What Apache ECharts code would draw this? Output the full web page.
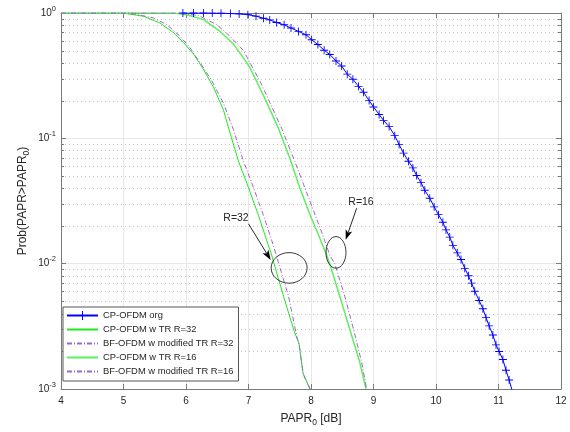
<!DOCTYPE html>
<html><head><meta charset="utf-8">
<script src="https://cdn.jsdelivr.net/npm/echarts@6/dist/echarts.min.js"></script>
<style>html,body{margin:0;padding:0;background:#fff}#c{width:570px;height:432px}</style>
</head><body><div id="c"></div>
<script>
// ---------- data ----------
const xTicks = [4, 5, 6, 7, 8, 9, 10, 11, 12];
const yTicks = [0.001, 0.01, 0.1, 1];
const seriesNames = ['CP-OFDM org', 'CP-OFDM w TR R=32', 'BF-OFDM w modified TR R=32', 'CP-OFDM w TR R=16', 'BF-OFDM w modified TR R=16'];

const orgX = [5.95, 6.12, 6.28, 6.42, 6.56, 6.71, 6.85, 6.99, 7.12, 7.24, 7.34, 7.45, 7.57, 7.68, 7.80, 7.92, 8.01, 8.11, 8.21, 8.30, 8.40, 8.49, 8.58, 8.67, 8.76, 8.84, 8.93, 9.00, 9.09, 9.16, 9.25, 9.34, 9.41, 9.48, 9.56, 9.63, 9.69, 9.76, 9.82, 9.90, 9.97, 10.04, 10.11, 10.16, 10.22, 10.27, 10.34, 10.40, 10.46, 10.52, 10.57, 10.62, 10.69, 10.75, 10.80, 10.85, 10.91, 10.96, 11.01, 11.07, 11.12, 11.17, 11.23];
const orgP = [1, 1, 1, 0.998, 0.995, 0.991, 0.984, 0.970, 0.944, 0.908, 0.881, 0.839, 0.805, 0.759, 0.713, 0.671, 0.612, 0.560, 0.505, 0.467, 0.414, 0.378, 0.325, 0.296, 0.260, 0.233, 0.200, 0.178, 0.155, 0.139, 0.124, 0.105, 0.0891, 0.0762, 0.0656, 0.0581, 0.0505, 0.0443, 0.0385, 0.0333, 0.0284, 0.0246, 0.0214, 0.0186, 0.0163, 0.0140, 0.0122, 0.0108, 0.00918, 0.00800, 0.00700, 0.00603, 0.00508, 0.00437, 0.00371, 0.00319, 0.00270, 0.00225, 0.00199, 0.00172, 0.00141, 0.00118, 0.00093];

const tr32X = [4.0, 4.5, 5.0, 5.32, 5.58, 5.80, 5.96, 6.12, 6.26, 6.44, 6.60, 6.70, 6.84, 7.00, 7.16, 7.29, 7.37, 7.56, 7.74, 7.81, 7.87, 7.98];
const tr32P = [1, 1, 0.998, 0.942, 0.834, 0.697, 0.581, 0.470, 0.368, 0.256, 0.168, 0.112, 0.0656, 0.0404, 0.0242, 0.0154, 0.0117, 0.0055, 0.0028, 0.0023, 0.00135, 0.001];

const mtr32X = [4.0, 4.5, 5.1, 5.48, 5.69, 5.90, 6.06, 6.22, 6.41, 6.60, 6.76, 6.92, 7.08, 7.24, 7.37, 7.45, 7.64, 7.77, 7.81, 7.88, 7.99];
const mtr32P = [1, 1, 0.998, 0.914, 0.809, 0.655, 0.530, 0.404, 0.290, 0.190, 0.117, 0.0656, 0.0404, 0.0242, 0.0154, 0.0114, 0.0055, 0.00266, 0.00222, 0.00129, 0.001];

const tr16X = [4.0, 5.0, 5.8, 6.01, 6.28, 6.54, 6.76, 6.97, 7.02, 7.25, 7.48, 7.66, 7.82, 7.98, 8.14, 8.25, 8.30, 8.46, 8.62, 8.78, 8.88];
const tr16P = [1, 1, 0.998, 0.970, 0.885, 0.718, 0.564, 0.404, 0.369, 0.214, 0.120, 0.0697, 0.0404, 0.0249, 0.0160, 0.0117, 0.0100, 0.0055, 0.0030, 0.00164, 0.001];

const mtr16X = [4.0, 5.0, 5.9, 6.2, 6.49, 6.70, 6.92, 7.2, 7.53, 7.72, 7.88, 8.04, 8.20, 8.30, 8.38, 8.54, 8.68, 8.81, 8.89];
const mtr16P = [1, 1, 0.998, 0.955, 0.809, 0.655, 0.501, 0.275, 0.120, 0.0697, 0.043, 0.0265, 0.0163, 0.0117, 0.0100, 0.0055, 0.0030, 0.00164, 0.001];

// annotations (data coordinates)
const annTexts = ['R=32', 'R=16'];
const annTextPos = [[6.80, 0.0230], [8.80, 0.0312]];
const annTail = [[7.00, 0.0208], [8.73, 0.0277]];
const annHead = [[7.355, 0.0107], [8.555, 0.0155]];
const annEllipse = [[7.65, 0.00925], [8.40, 0.0123]];
const annEllipseR = [[18, 15.3], [10, 15.8]];

// ---------- chart ----------
const chart = echarts.init(document.getElementById('c'), null, {renderer: 'canvas'});
const FONT = 'Liberation Sans, Arial, Helvetica, sans-serif';
const AX = '#7a7a7a';
const TXT = '#262626';
const pair = (xs, ps) => xs.map((x, i) => [x, ps[i]]);
const minorVals = [];
for (let k = -3; k < 0; k++) for (let m = 2; m <= 9; m++) minorVals.push(+(m * Math.pow(10, k)).toPrecision(3));

const crossPath = 'path://M4.45,0H5.55V4.45H10V5.55H5.55V10H4.45V5.55H0V4.45H4.45Z';
const supLabel = v => '{b|10}{s|' + Math.round(Math.log10(v)) + '}';

const option = {
  animation: false,
  backgroundColor: '#fff',
  textStyle: {fontFamily: FONT},
  grid: {left: 61, right: 9, top: 13, bottom: 38},
  legend: {
    data: seriesNames.map((n, i) => i === 0 ? {name: n} : {name: n, itemStyle: {opacity: 0}}),
    orient: 'vertical', left: 63, top: 307,
    padding: [4, 5, 5, 3], itemGap: 5, itemWidth: 31, itemHeight: 11,
    backgroundColor: '#fff', borderColor: '#555', borderWidth: 1, borderRadius: 0,
    textStyle: {fontSize: 9.4, color: TXT, fontFamily: FONT},
    selectedMode: false
  },
  xAxis: [{
    type: 'value', min: 4, max: 12, interval: 1, position: 'bottom',
    axisLine: {onZero: false, lineStyle: {color: AX}},
    axisTick: {inside: true, length: 5, lineStyle: {color: AX}},
    axisLabel: {fontSize: 10, color: TXT, margin: 7, fontFamily: FONT},
    splitLine: {show: true, lineStyle: {color: '#e8e8e8', width: 1}},
    name: '{a|PAPR}{s|0}{a| [dB]}', nameLocation: 'middle', nameGap: 21, nameMoveOverlap: false,
    nameTextStyle: {rich: {a: {fontSize: 12, color: TXT, fontFamily: FONT}, s: {fontSize: 8.5, color: TXT, fontFamily: FONT, padding: [8, 0, 0, 0]}}}
  }, {
    type: 'value', min: 4, max: 12, interval: 1, position: 'top',
    axisLine: {onZero: false, lineStyle: {color: AX}},
    axisTick: {inside: true, length: 5, lineStyle: {color: AX}},
    axisLabel: {show: false}, splitLine: {show: false}
  }],
  yAxis: [{
    type: 'log', logBase: 10, min: yTicks[0], max: yTicks[yTicks.length - 1], position: 'left',
    axisLine: {onZero: false, lineStyle: {color: AX}},
    axisTick: {inside: true, length: 5, lineStyle: {color: AX}},
    axisLabel: {
      formatter: supLabel, margin: 5,
      rich: {b: {fontSize: 10, color: TXT, fontFamily: FONT}, s: {fontSize: 7.5, color: TXT, fontFamily: FONT, padding: [0, 0, 9, 0]}}
    },
    splitLine: {show: true, lineStyle: {color: '#e8e8e8', width: 1}},
    name: '{a|Prob(PAPR>PAPR}{s|0}{a|)}', nameLocation: 'middle', nameGap: 30, nameMoveOverlap: false,
    nameTextStyle: {rich: {a: {fontSize: 12, color: TXT, fontFamily: FONT}, s: {fontSize: 8.5, color: TXT, fontFamily: FONT, padding: [8, 0, 0, 0]}}}
  }, {
    type: 'log', logBase: 10, min: yTicks[0], max: yTicks[yTicks.length - 1], position: 'right',
    axisLine: {onZero: false, lineStyle: {color: AX}},
    axisTick: {inside: true, length: 5, lineStyle: {color: AX}},
    axisLabel: {show: false}, splitLine: {show: false}
  }],
  series: [
    {
      type: 'custom', name: 'minor', coordinateSystem: 'cartesian2d', silent: true, z: 1,
      data: minorVals.map(v => [4, v]), encode: {x: 0, y: 1},
      renderItem: (params, api) => {
        const v = api.value(1);
        const a = api.coord([4, v]), b = api.coord([12, v]);
        const y = Math.round(a[1]) + 0.5;
        return {type: 'group', children: [
          {type: 'line', shape: {x1: a[0], y1: y, x2: b[0], y2: y}, style: {stroke: '#c4c4c4', lineWidth: 1, lineDash: [1, 3]}},
          {type: 'line', shape: {x1: a[0], y1: y, x2: a[0] + 3, y2: y}, style: {stroke: AX, lineWidth: 1}},
          {type: 'line', shape: {x1: b[0] - 3, y1: y, x2: b[0], y2: y}, style: {stroke: AX, lineWidth: 1}}
        ]};
      }
    },
    {
      name: seriesNames[0], type: 'line', data: pair(orgX, orgP), clip: true, z: 6,
      symbol: crossPath, symbolSize: 8, showSymbol: true,
      itemStyle: {color: '#0000ff'}, lineStyle: {color: '#0000ff', width: 1}
    },
    {
      name: seriesNames[1], type: 'line', data: pair(tr32X, tr32P), clip: true, z: 4,
      showSymbol: false, symbol: 'none', smooth: false,
      itemStyle: {color: '#1ee81e'}, lineStyle: {color: '#1ee81e', width: 1}
    },
    {
      name: seriesNames[2], type: 'line', data: pair(mtr32X, mtr32P), clip: true, z: 5,
      showSymbol: false, symbol: 'none',
      itemStyle: {color: '#a066cc'}, lineStyle: {color: '#a066cc', width: 1, type: [5, 2, 1, 2]}
    },
    {
      name: seriesNames[3], type: 'line', data: pair(tr16X, tr16P), clip: true, z: 4,
      showSymbol: false, symbol: 'none',
      itemStyle: {color: '#5cf05c'}, lineStyle: {color: '#5cf05c', width: 1.5}
    },
    {
      name: seriesNames[4], type: 'line', data: pair(mtr16X, mtr16P), clip: true, z: 5,
      showSymbol: false, symbol: 'none',
      itemStyle: {color: '#a066cc'}, lineStyle: {color: '#a066cc', width: 1, type: [5, 2, 1, 2]}
    }
  ]
};
chart.setOption(option);

// annotations: ellipses, arrows and labels placed from data coordinates
const toPx = p => chart.convertToPixel({gridIndex: 0}, p);
const elements = [];
annTexts.forEach((t, i) => {
  const tp = toPx(annTextPos[i]);
  const tail = toPx(annTail[i]);
  const head = toPx(annHead[i]);
  const ec = toPx(annEllipse[i]);
  const dx = head[0] - tail[0], dy = head[1] - tail[1];
  const len = Math.hypot(dx, dy), ux = dx / len, uy = dy / len;
  const hl = 10, hw = 3.5;
  const bx = head[0] - ux * hl, by = head[1] - uy * hl;
  const nx = -uy, ny = ux;
  const notch = [head[0] - ux * hl * 0.75, head[1] - uy * hl * 0.75];
  elements.push(
    {type: 'ellipse', shape: {cx: ec[0], cy: ec[1], rx: annEllipseR[i][0], ry: annEllipseR[i][1]}, style: {fill: 'none', stroke: '#222', lineWidth: 0.9}, z: 20},
    {type: 'line', shape: {x1: tail[0], y1: tail[1], x2: notch[0], y2: notch[1]}, style: {stroke: '#111', lineWidth: 0.9}, z: 20},
    {type: 'polygon', shape: {points: [[head[0], head[1]], [bx + nx * hw, by + ny * hw], notch, [bx - nx * hw, by - ny * hw]]}, style: {fill: '#000'}, z: 20},
    {type: 'text', x: tp[0], y: tp[1], style: {text: t, fontSize: 10.5, fontFamily: FONT, fill: TXT, align: 'center', verticalAlign: 'middle'}, z: 20}
  );
});
chart.setOption({graphic: {elements: elements}});
</script>
</body></html>
